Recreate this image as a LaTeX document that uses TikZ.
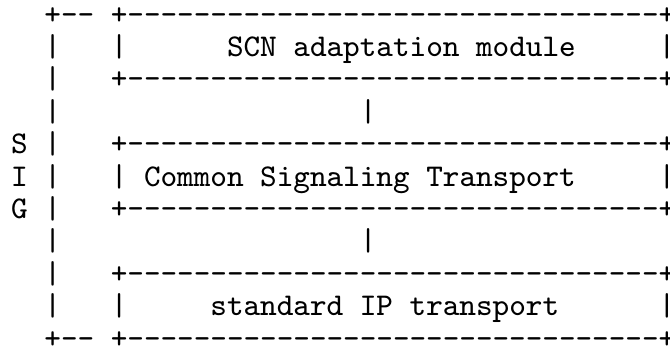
\documentclass[tikz,border=0pt]{standalone}
\usepackage{tikz}

\tikzset{
  cell/.style={anchor=base west, inner sep=0pt, outer sep=0pt, font=\ttfamily\fontsize{9.49pt}{11pt}\selectfont}
}
\newcommand{\boxrow}[1]{%
  \node[cell] (pl-#1) at (7,-#1) {+};
  \foreach \c in {8,...,39} \node[cell] (d-#1-\c) at (\c,-#1) {-};
  \node[cell] (pr-#1) at (40,-#1) {+};
}

\begin{document}
\begin{tikzpicture}[x=4.98pt, y=9.72pt]
  \useasboundingbox (0.325,0.747) rectangle (40.687,-9.932);
  \node[cell] (sigtop) at (3,0) {+};
  \node[cell] (sigtop-a) at (4,0) {-};
  \node[cell] (sigtop-b) at (5,0) {-};
  \foreach \r in {1,...,9} \node[cell] (sigbar-\r) at (3,-\r) {|};
  \node[cell] (sigbot) at (3,-10) {+};
  \node[cell] (sigbot-a) at (4,-10) {-};
  \node[cell] (sigbot-b) at (5,-10) {-};
  \node[cell] (s) at (1,-4) {S};
  \node[cell] (i) at (1,-5) {I};
  \node[cell] (g) at (1,-6) {G};

  \boxrow{0}
  \node[cell] (scnl) at (7,-1) {|};
  \node[cell] (scn) at (14,-1) {SCN adaptation module};
  \node[cell] (scnr) at (40,-1) {|};
  \boxrow{2}

  \node[cell] (link1) at (22,-3) {|};

  \boxrow{4}
  \node[cell] (cstl) at (7,-5) {|};
  \node[cell] (cst) at (9,-5) {Common Signaling Transport};
  \node[cell] (cstr) at (40,-5) {|};
  \boxrow{6}

  \node[cell] (link2) at (22,-7) {|};

  \boxrow{8}
  \node[cell] (iptl) at (7,-9) {|};
  \node[cell] (ipt) at (13,-9) {standard IP transport};
  \node[cell] (iptr) at (40,-9) {|};
  \boxrow{10}
\end{tikzpicture}
\end{document}
